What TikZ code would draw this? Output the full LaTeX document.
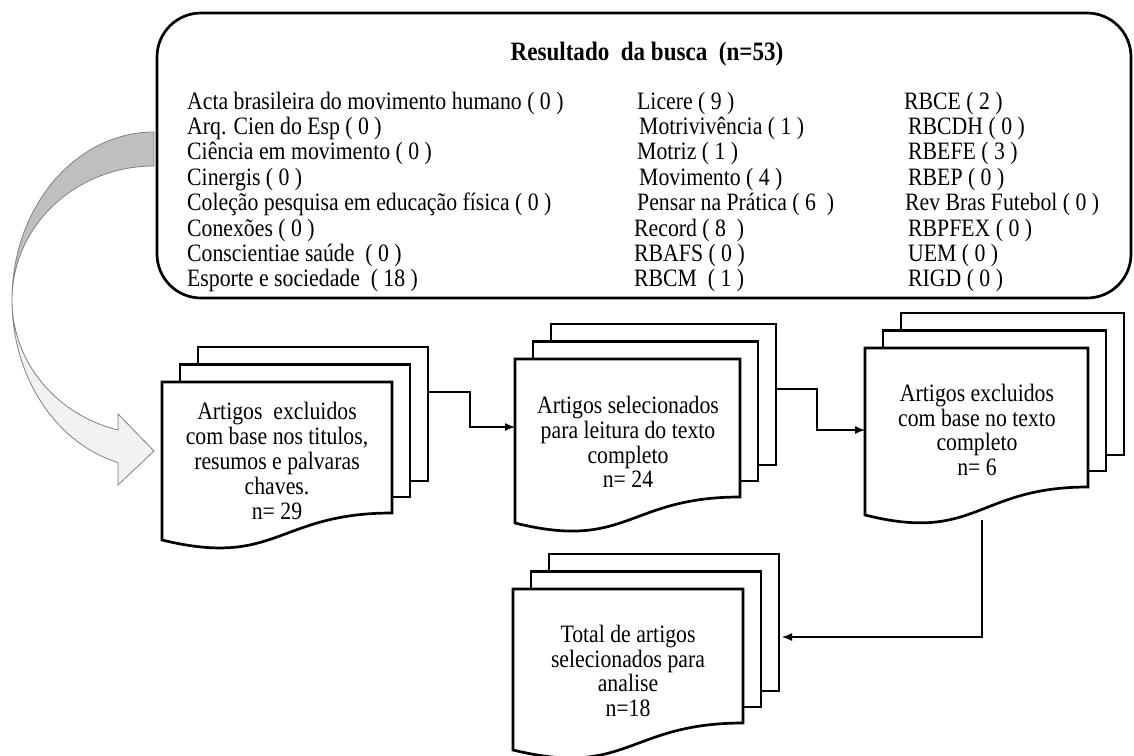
\documentclass[tikz,border=0pt]{standalone}
\usepackage{fontspec}
\setmainfont{Liberation Serif}[FakeStretch=0.87]
\usetikzlibrary{arrows.meta}
\newcommand\mdocshape[5]{%
  \draw[docline, fill=white] (#1+36,#2-35) rectangle (#1+36+#3,#4-32);
  \draw[docline, fill=white] (#1+18,#2-17.5) rectangle (#1+18+#3,#4-16);
  \draw[docline, fill=white] (#1,#2) -- (#1+#3,#2) -- (#1+#3,#4) .. controls (#1+#3/2,#4) and (#1+#3/2,#5+28) .. (#1,#5) -- cycle;
}
\begin{document}
\begin{tikzpicture}[x=1pt,y=-1pt,
  docline/.style={line width=2.7pt, line join=miter},
  conn/.style={line width=1.3pt, -{Latex[length=10pt,width=8pt]}},
  lst/.style={anchor=base west, inner sep=0pt, font=\fontsize{25}{25.4}\selectfont},
  doctext/.style={align=center, inner sep=0pt, font=\fontsize{25}{24.8}\selectfont},
  band/.style={draw=black!50, line width=0.8pt}]
\useasboundingbox (0,0) rectangle (1134,755);

% curved block arrow
\fill[black!25, band] (154,132) arc[start angle=-90, end angle=-180, x radius=142, y radius=168]
   arc[start angle=180, end angle=270, x radius=142, y radius=134] -- cycle;
\fill[black!5, band] (12,300) arc[start angle=180, end angle=104.7, x radius=142, y radius=168]
   -- (118,485) -- (154,451) -- (118,414) -- (118,430)
   arc[start angle=104.7, end angle=180, x radius=142, y radius=134] -- cycle;

% top box
\node[draw, line width=2.7pt, rounded corners=44pt, minimum width=974pt, minimum height=285pt, inner sep=0pt] (box) at (644,155.5) {};
\node[anchor=base, inner sep=0pt, font=\bfseries\fontsize{26.5}{28}\selectfont] (title) at (647,60) {Resultado\ \ da busca\ \ (n=53)};

\node[lst] (a1) at (187,109.0) {Acta brasileira do movimento humano ( 0 )};
\node[lst] (a2) at (187,134.4) {Arq. Cien do Esp ( 0 )};
\node[lst] (a3) at (187,159.8) {Ciência em movimento ( 0 )};
\node[lst] (a4) at (187,185.2) {Cinergis ( 0 )};
\node[lst] (a5) at (187,210.6) {Coleção pesquisa em educação física ( 0 )};
\node[lst] (a6) at (187,236.0) {Conexões ( 0 )};
\node[lst] (a7) at (187,261.4) {Conscientiae saúde\ \ ( 0 )};
\node[lst] (a8) at (187,286.8) {Esporte e sociedade\ \ ( 18 )};

\node[lst] (b1) at (637,109.0) {Licere ( 9 )};
\node[lst] (b2) at (639,134.4) {Motrivivência ( 1 )};
\node[lst] (b3) at (637,159.8) {Motriz ( 1 )};
\node[lst] (b4) at (639,185.2) {Movimento ( 4 )};
\node[lst] (b5) at (637,210.6) {Pensar na Prática ( 6\ \ )};
\node[lst] (b6) at (634,236.0) {Record ( 8\ \ )};
\node[lst] (b7) at (634,261.4) {RBAFS ( 0 )};
\node[lst] (b8) at (634,286.8) {RBCM\ \ ( 1 )};

\node[lst] (c1) at (904,109.0) {RBCE ( 2 )};
\node[lst] (c2) at (908,134.4) {RBCDH ( 0 )};
\node[lst] (c3) at (908,159.8) {RBEFE ( 3 )};
\node[lst] (c4) at (908,185.2) {RBEP ( 0 )};
\node[lst] (c5) at (905,210.6) {Rev Bras Futebol ( 0 )};
\node[lst] (c6) at (908,236.0) {RBPFEX ( 0 )};
\node[lst] (c7) at (908,261.4) {UEM ( 0 )};
\node[lst] (c8) at (908,286.8) {RIGD ( 0 )};

% documents
\mdocshape{162}{382}{230}{513}{540}
\node[doctext] (d1) at (277,461) {Artigos\ \ excluidos\\com base nos titulos,\\resumos e palvaras\\chaves.\\n= 29};
\mdocshape{515}{359}{225}{497}{523}
\node[doctext] (d2) at (628,442) {Artigos selecionados\\para leitura do texto\\completo\\n= 24};
\mdocshape{865}{348}{223}{487}{515}
\node[doctext] (d3) at (977,430) {Artigos excluidos\\com base no texto\\completo\\n= 6};
\mdocshape{513}{589}{230}{723}{750}
\node[doctext] (d4) at (628,671) {Total de artigos\\selecionados para\\analise\\n=18};

% connectors
\coordinate (d1o) at (428,392);
\coordinate (d2i) at (515,427);
\coordinate (d2o) at (775,389);
\coordinate (d3i) at (865,430);
\coordinate (d3o) at (982,520);
\coordinate (d4i) at (782,637);
\draw[conn] (d1o) -- ++(42,0) |- (d2i);
\draw[conn] (d2o) -- ++(42,0) |- (d3i);
\draw[conn] (d3o) |- (d4i);
\end{tikzpicture}
\end{document}
